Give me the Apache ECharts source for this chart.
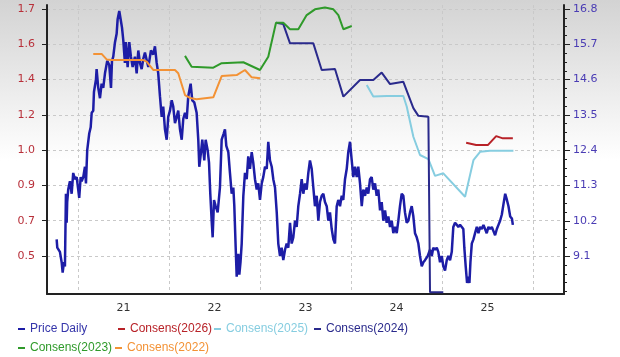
<!DOCTYPE html>
<html><head><meta charset="utf-8">
<style>html,body{margin:0;padding:0;background:#fff}#c{width:620px;height:357px}</style>
<script src="https://cdn.jsdelivr.net/npm/echarts@6.0.0/dist/echarts.min.js"></script>
</head><body><div id="c"></div>
<script>
// ---- data (x = fractional year) ----
const priceDaily = [[2020.766,0.59],[2020.773,0.55],[2020.802,0.53],[2020.821,0.48],[2020.832,0.43],[2020.846,0.48],[2020.857,0.46],[2020.868,0.81],[2020.876,0.67],[2020.882,0.77],[2020.893,0.83],[2020.912,0.87],[2020.931,0.81],[2020.948,0.91],[2020.967,0.88],[2020.986,0.89],[2021.003,0.83],[2021.014,0.79],[2021.030,0.89],[2021.041,0.87],[2021.058,0.89],[2021.077,0.94],[2021.088,0.86],[2021.102,1.02],[2021.124,1.10],[2021.140,1.13],[2021.151,1.20],[2021.168,1.21],[2021.176,1.30],[2021.198,1.36],[2021.205,1.41],[2021.223,1.32],[2021.242,1.27],[2021.260,1.34],[2021.278,1.32],[2021.297,1.39],[2021.322,1.45],[2021.344,1.43],[2021.363,1.32],[2021.374,1.45],[2021.388,1.47],[2021.407,1.54],[2021.425,1.58],[2021.436,1.65],[2021.454,1.69],[2021.469,1.65],[2021.484,1.61],[2021.498,1.55],[2021.516,1.44],[2021.527,1.54],[2021.546,1.42],[2021.564,1.54],[2021.582,1.47],[2021.601,1.42],[2021.626,1.47],[2021.645,1.39],[2021.663,1.50],[2021.681,1.44],[2021.700,1.41],[2021.718,1.46],[2021.736,1.49],[2021.773,1.42],[2021.802,1.50],[2021.827,1.48],[2021.846,1.52],[2021.865,1.44],[2021.882,1.39],[2021.901,1.28],[2021.920,1.18],[2021.937,1.23],[2021.956,1.12],[2021.975,1.07],[2021.992,1.18],[2022.011,1.21],[2022.030,1.26],[2022.047,1.23],[2022.066,1.15],[2022.085,1.18],[2022.102,1.21],[2022.121,1.12],[2022.140,1.07],[2022.157,1.17],[2022.176,1.20],[2022.195,1.17],[2022.212,1.28],[2022.238,1.34],[2022.256,1.26],[2022.278,1.25],[2022.304,1.20],[2022.322,1.07],[2022.333,0.94],[2022.352,1.01],[2022.366,1.07],[2022.388,0.97],[2022.403,1.07],[2022.425,1.02],[2022.440,0.96],[2022.454,0.81],[2022.469,0.68],[2022.480,0.60],[2022.495,0.78],[2022.513,0.75],[2022.535,0.72],[2022.560,0.84],[2022.579,1.07],[2022.601,1.10],[2022.615,1.12],[2022.630,1.04],[2022.652,1.01],[2022.670,0.91],[2022.689,0.81],[2022.707,0.84],[2022.718,0.75],[2022.733,0.55],[2022.744,0.41],[2022.762,0.52],[2022.773,0.42],[2022.786,0.48],[2022.799,0.57],[2022.817,0.80],[2022.835,0.91],[2022.854,0.88],[2022.871,0.99],[2022.890,0.93],[2022.909,1.01],[2022.926,0.96],[2022.945,0.88],[2022.964,0.83],[2022.981,0.86],[2023.000,0.78],[2023.019,0.86],[2023.036,0.89],[2023.055,0.94],[2023.074,0.93],[2023.091,1.06],[2023.110,0.97],[2023.129,0.94],[2023.146,0.88],[2023.165,0.84],[2023.184,0.72],[2023.201,0.57],[2023.220,0.51],[2023.238,0.55],[2023.256,0.49],[2023.275,0.54],[2023.293,0.57],[2023.311,0.55],[2023.330,0.67],[2023.348,0.57],[2023.366,0.60],[2023.385,0.68],[2023.403,0.65],[2023.421,0.75],[2023.440,0.81],[2023.458,0.88],[2023.476,0.81],[2023.495,0.86],[2023.513,0.83],[2023.531,0.91],[2023.549,0.97],[2023.568,0.93],[2023.586,0.84],[2023.604,0.75],[2023.623,0.80],[2023.641,0.68],[2023.659,0.77],[2023.678,0.80],[2023.696,0.81],[2023.714,0.77],[2023.733,0.75],[2023.751,0.68],[2023.769,0.72],[2023.788,0.64],[2023.806,0.59],[2023.824,0.57],[2023.843,0.75],[2023.860,0.78],[2023.879,0.75],[2023.898,0.80],[2023.915,0.78],[2023.934,0.88],[2023.953,0.93],[2023.970,1.01],[2023.989,1.06],[2024.008,0.97],[2024.025,0.89],[2024.044,0.94],[2024.063,0.89],[2024.080,0.94],[2024.099,0.86],[2024.118,0.75],[2024.135,0.83],[2024.154,0.80],[2024.173,0.84],[2024.190,0.81],[2024.209,0.88],[2024.227,0.89],[2024.245,0.83],[2024.264,0.86],[2024.282,0.80],[2024.300,0.83],[2024.319,0.73],[2024.337,0.77],[2024.355,0.68],[2024.374,0.73],[2024.392,0.67],[2024.410,0.70],[2024.429,0.65],[2024.447,0.68],[2024.465,0.62],[2024.484,0.65],[2024.502,0.62],[2024.520,0.68],[2024.538,0.75],[2024.557,0.81],[2024.575,0.80],[2024.593,0.72],[2024.612,0.67],[2024.630,0.68],[2024.648,0.72],[2024.667,0.75],[2024.685,0.70],[2024.703,0.62],[2024.722,0.60],[2024.740,0.57],[2024.758,0.51],[2024.777,0.46],[2024.795,0.48],[2024.813,0.49],[2024.843,0.51],[2024.868,0.54],[2024.887,0.51],[2024.904,0.55],[2024.923,0.54],[2024.942,0.55],[2024.959,0.53],[2024.978,0.48],[2024.997,0.51],[2025.014,0.46],[2025.033,0.44],[2025.052,0.49],[2025.069,0.51],[2025.088,0.49],[2025.107,0.53],[2025.124,0.65],[2025.143,0.67],[2025.162,0.66],[2025.179,0.65],[2025.198,0.66],[2025.217,0.65],[2025.234,0.64],[2025.245,0.55],[2025.260,0.46],[2025.275,0.38],[2025.290,0.41],[2025.301,0.38],[2025.312,0.48],[2025.327,0.57],[2025.345,0.59],[2025.363,0.62],[2025.382,0.65],[2025.400,0.62],[2025.418,0.65],[2025.437,0.64],[2025.455,0.66],[2025.473,0.64],[2025.491,0.62],[2025.510,0.65],[2025.529,0.64],[2025.547,0.65],[2025.565,0.63],[2025.583,0.61],[2025.602,0.64],[2025.620,0.66],[2025.638,0.68],[2025.657,0.71],[2025.675,0.76],[2025.694,0.81],[2025.713,0.78],[2025.730,0.75],[2025.749,0.70],[2025.768,0.69],[2025.778,0.66]];

const consens2026 = [[2025.265,12.63],[2025.375,12.56],[2025.503,12.56],[2025.595,12.84],[2025.668,12.77],[2025.778,12.77]];
const consens2025 = [[2024.173,14.43],[2024.245,14.07],[2024.392,14.09],[2024.575,14.09],[2024.612,13.76],[2024.685,12.82],[2024.758,12.25],[2024.850,12.12],[2024.923,11.60],[2025.014,11.68],[2025.253,10.95],[2025.345,12.09],[2025.418,12.35],[2025.527,12.38],[2025.784,12.38]];
const consens2024 = [[2023.176,16.37],[2023.256,16.33],[2023.330,15.73],[2023.586,15.73],[2023.678,14.90],[2023.824,14.93],[2023.916,14.07],[2024.099,14.59],[2024.245,14.59],[2024.337,14.82],[2024.429,14.46],[2024.575,14.53],[2024.685,13.71],[2024.740,13.47],[2024.850,13.44],[2024.868,7.97],[2025.014,7.97]];
const consens2023 = [[2022.176,15.34],[2022.249,15.00],[2022.487,14.97],[2022.579,15.11],[2022.817,15.14],[2023.000,14.90],[2023.091,15.31],[2023.176,16.37],[2023.256,16.37],[2023.330,16.17],[2023.421,16.17],[2023.513,16.61],[2023.604,16.79],[2023.714,16.85],[2023.806,16.79],[2023.861,16.61],[2023.916,16.17],[2024.008,16.27]];
const consens2022 = [[2021.168,15.40],[2021.260,15.40],[2021.315,15.23],[2021.370,15.21],[2021.718,15.21],[2021.755,15.16],[2021.827,14.90],[2022.066,14.90],[2022.102,14.80],[2022.176,14.12],[2022.231,14.03],[2022.304,13.99],[2022.487,14.05],[2022.579,14.71],[2022.744,14.74],[2022.835,14.90],[2022.909,14.67],[2023.000,14.64]];

const yearBoundaries = [2021, 2022, 2023, 2024, 2025, 2026];
const xLabelYears = [2021.5, 2022.5, 2023.5, 2024.5, 2025.5];
const xTickLabels = ['21', '22', '23', '24', '25'];
const leftTickValues = [0.51, 0.68, 0.85, 1.02, 1.19, 1.36, 1.53, 1.70];
const leftTickLabels = ['0.5', '0.7', '0.9', '1.0', '1.2', '1.4', '1.6', '1.7'];
const rightTickValues = [9.1, 10.2, 11.3, 12.4, 13.5, 14.6, 15.7, 16.8];
const rightTickLabels = ['9.1', '10.2', '11.3', '12.4', '13.5', '14.6', '15.7', '16.8'];

// minor tick positions on the right axis (4 divisions per major step)
const rightMinor = [];
for (let i = 0; i < rightTickValues.length - 1; i++) {
  const a = rightTickValues[i], b = rightTickValues[i + 1];
  for (let k = 1; k < 4; k++) rightMinor.push(a + (b - a) * k / 4);
}
for (let k = 1; k <= 4; k++) rightMinor.push(rightTickValues[0] - 0.275 * k);

function lookup(vals, labels) {
  return function (v) {
    for (let i = 0; i < vals.length; i++) if (Math.abs(vals[i] - v) < 1e-6) return labels[i];
    return '';
  };
}

const COLORS = {
  price: '#1d1da6', c2026: '#b82228', c2025: '#86cde0', c2024: '#2a2a8c', c2023: '#2f9a2a', c2022: '#f39235'
};

const chart = echarts.init(document.getElementById('c'), null, { renderer: 'canvas' });
const lineBase = { type: 'line', showSymbol: false, symbol: 'none', smooth: false, animation: false };
const grayDash = { color: '#c9c9c9', type: [3, 3], width: 1 };
const axisFont = { fontFamily: 'DejaVu Sans', fontSize: 11 };

function legendAt(name, left, top, color) {
  return {
    data: [name], left: left, top: top, padding: 0, icon: 'rect', itemWidth: 7, itemHeight: 2,
    selectedMode: false, textStyle: { color: color, fontFamily: 'Liberation Sans', fontSize: 12 }
  };
}

chart.setOption({
  animation: false,
  backgroundColor: {
    type: 'linear', x: 0, y: 0, x2: 0, y2: 1,
    colorStops: [{ offset: 0, color: '#d3d3d3' }, { offset: 0.45, color: '#ffffff' }, { offset: 1, color: '#ffffff' }]
  },
  grid: { left: 47, right: 56, top: 5, bottom: 63, containLabel: false, outerBoundsMode: 'none' },
  legend: [
    legendAt('Price Daily', 18, 323, '#3535aa'),
    legendAt('Consens(2026)', 118, 323, COLORS.c2026),
    legendAt('Consens(2025)', 214, 323, COLORS.c2025),
    legendAt('Consens(2024)', 314, 323, COLORS.c2024),
    legendAt('Consens(2023)', 18, 342, COLORS.c2023),
    legendAt('Consens(2022)', 115, 342, COLORS.c2022)
  ],
  xAxis: {
    type: 'value', min: 2020.66, max: 2026.34,
    axisLine: { show: true, onZero: false, lineStyle: { color: '#222', width: 2 } },
    axisTick: { show: false, customValues: yearBoundaries },
    splitLine: { show: true, lineStyle: grayDash },
    axisLabel: Object.assign({ customValues: xLabelYears, formatter: lookup(xLabelYears, xTickLabels), color: '#333', margin: 9 }, axisFont)
  },
  yAxis: [
    {
      type: 'value', position: 'left', min: 0.327, max: 1.719,
      axisLine: { show: true, lineStyle: { color: '#222', width: 2 } },
      axisTick: { show: true, customValues: leftTickValues, length: 5, lineStyle: { color: '#222' } },
      splitLine: { show: true, lineStyle: grayDash },
      axisLabel: Object.assign({ customValues: leftTickValues, formatter: lookup(leftTickValues, leftTickLabels), color: '#b8303a', margin: 12 }, axisFont)
    },
    {
      type: 'value', position: 'right', min: 7.919, max: 16.925,
      axisLine: { show: true, lineStyle: { color: '#222', width: 2 } },
      axisTick: { show: true, customValues: rightTickValues, length: 6, lineStyle: { color: '#222' } },
      splitLine: { show: false },
      axisLabel: Object.assign({ customValues: rightTickValues, formatter: lookup(rightTickValues, rightTickLabels), color: '#4a3cb4', margin: 9 }, axisFont)
    },
    {
      type: 'value', position: 'right', min: 7.919, max: 16.925,
      axisLine: { show: false },
      axisTick: { show: true, customValues: rightMinor, length: 3, lineStyle: { color: '#222' } },
      splitLine: { show: false },
      axisLabel: { show: false }
    }
  ],
  series: [
    Object.assign({}, lineBase, { name: 'Price Daily', yAxisIndex: 0, data: priceDaily, lineStyle: { color: COLORS.price, width: 2.5 }, itemStyle: { color: COLORS.price } }),
    Object.assign({}, lineBase, { name: 'Consens(2026)', yAxisIndex: 1, data: consens2026, lineStyle: { color: COLORS.c2026, width: 2 }, itemStyle: { color: COLORS.c2026 } }),
    Object.assign({}, lineBase, { name: 'Consens(2025)', yAxisIndex: 1, data: consens2025, lineStyle: { color: COLORS.c2025, width: 2 }, itemStyle: { color: COLORS.c2025 } }),
    Object.assign({}, lineBase, { name: 'Consens(2024)', yAxisIndex: 1, data: consens2024, lineStyle: { color: COLORS.c2024, width: 2 }, itemStyle: { color: COLORS.c2024 } }),
    Object.assign({}, lineBase, { name: 'Consens(2023)', yAxisIndex: 1, data: consens2023, lineStyle: { color: COLORS.c2023, width: 2 }, itemStyle: { color: COLORS.c2023 } }),
    Object.assign({}, lineBase, { name: 'Consens(2022)', yAxisIndex: 1, data: consens2022, lineStyle: { color: COLORS.c2022, width: 2 }, itemStyle: { color: COLORS.c2022 } })
  ]
});
</script>
</body></html>
